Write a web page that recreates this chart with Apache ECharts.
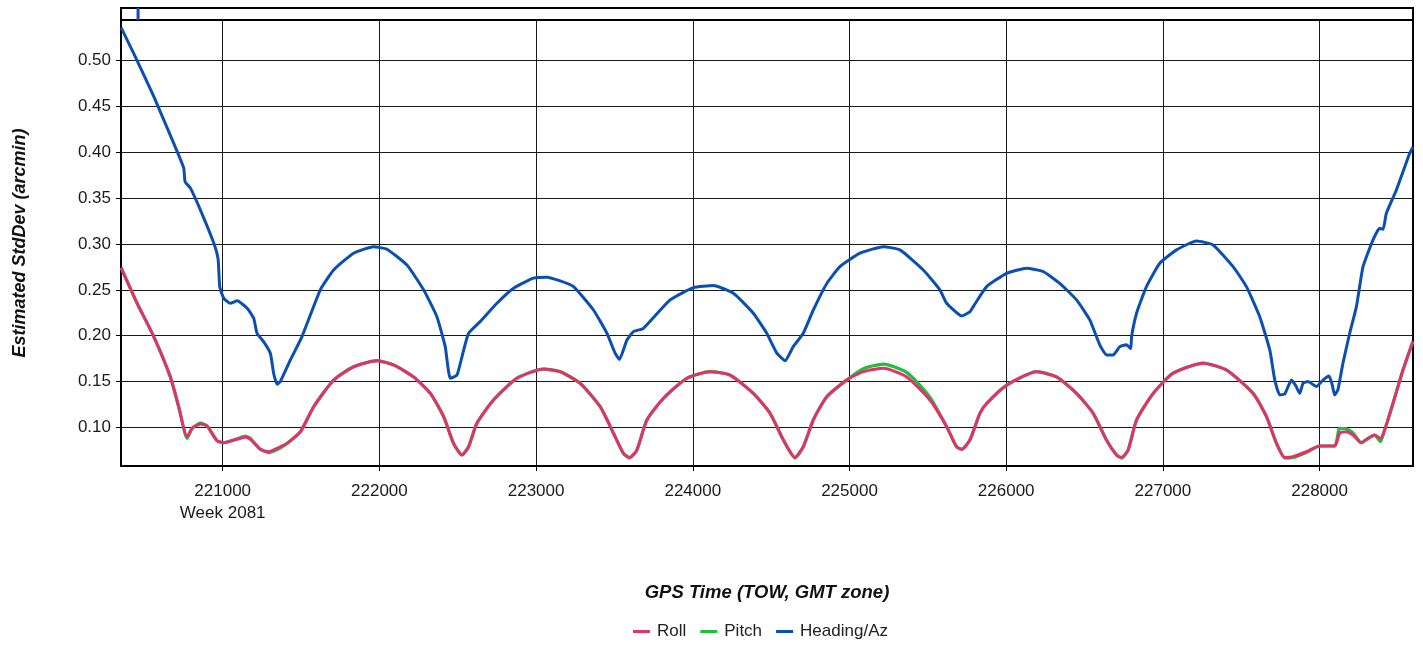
<!DOCTYPE html>
<html><head><meta charset="utf-8">
<script src="https://cdn.jsdelivr.net/npm/echarts@6/dist/echarts.min.js"></script>
<style>html,body{margin:0;padding:0;background:#fff}#c{width:1423px;height:648px}</style>
</head><body><div id="c"></div>
<script>
const rollTime = [220352,220454,220560,220666,220719,220773,220805,220858,220900,220964,221006,221092,221145,221177,221240,221293,221368,221411,221496,221581,221708,221835,221985,222091,222218,222325,222410,222473,222527,222569,222622,222728,222877,223047,223154,223281,223409,223494,223557,223596,223643,223707,223813,223962,224110,224238,224386,224493,224578,224652,224705,224769,224855,224982,225088,225216,225365,225513,225620,225683,225716,225768,225832,225875,226003,226194,226321,226449,226555,226640,226704,226736,226778,226832,226938,227065,227257,227406,227576,227661,227725,227778,227831,227916,228001,228096,228128,228170,228213,228266,228309,228351,228388,228415,228468,228532,228596];
const rollValues = [0.274,0.2353,0.199,0.155,0.1225,0.0897,0.0989,0.1036,0.1015,0.0854,0.0832,0.0869,0.0891,0.0869,0.076,0.0734,0.0788,0.0825,0.0952,0.1225,0.1516,0.166,0.1727,0.168,0.155,0.137,0.1116,0.0825,0.0698,0.0788,0.1044,0.1298,0.1535,0.1636,0.1607,0.148,0.1225,0.0935,0.0716,0.0672,0.0752,0.108,0.1317,0.1535,0.1607,0.157,0.137,0.1153,0.0861,0.0672,0.0788,0.108,0.1334,0.1516,0.1607,0.1644,0.155,0.1298,0.1007,0.0788,0.076,0.0861,0.1153,0.126,0.146,0.1607,0.155,0.137,0.1153,0.0861,0.0698,0.0672,0.0752,0.108,0.137,0.159,0.17,0.1625,0.137,0.1116,0.0825,0.0672,0.068,0.0734,0.0796,0.0796,0.0935,0.0952,0.0916,0.0832,0.0879,0.0916,0.0879,0.097,0.126,0.1625,0.194];
const pitchValues = [0.274,0.2353,0.199,0.155,0.1225,0.088,0.0989,0.1045,0.1015,0.0854,0.0832,0.0875,0.0905,0.088,0.076,0.0725,0.0775,0.0825,0.0952,0.1225,0.1516,0.166,0.1727,0.168,0.155,0.137,0.1116,0.0825,0.0698,0.0788,0.1044,0.1298,0.1535,0.1636,0.1607,0.148,0.1225,0.0935,0.0716,0.0665,0.0752,0.108,0.1317,0.1535,0.1607,0.157,0.137,0.1153,0.0861,0.0665,0.0788,0.108,0.1334,0.1516,0.164,0.169,0.16,0.133,0.1007,0.0788,0.076,0.0861,0.1153,0.126,0.146,0.1607,0.155,0.137,0.1153,0.0861,0.0698,0.0665,0.0752,0.108,0.137,0.159,0.17,0.1625,0.137,0.1116,0.0825,0.0665,0.067,0.0725,0.0796,0.0796,0.099,0.0985,0.094,0.0832,0.0879,0.0916,0.0845,0.097,0.126,0.1625,0.194];
const headingTime = [220352,220432,220560,220687,220751,220760,220794,220858,220943,220971,220981,221006,221049,221092,221156,221198,221219,221261,221304,221325,221347,221368,221432,221506,221623,221708,221835,221963,222048,222176,222282,222367,222420,222452,222495,222527,222569,222643,222750,222856,222983,223069,223154,223239,223366,223452,223504,223532,223579,223621,223685,223855,224004,224131,224259,224386,224472,224536,224589,224641,224705,224769,224855,224939,225067,225216,225322,225471,225577,225620,225716,225768,225790,225875,226003,226130,226236,226342,226449,226534,226597,226640,226682,226725,226767,226795,226800,226832,226895,226980,227087,227214,227320,227448,227533,227618,227682,227714,227746,227778,227820,227849,227873,227894,227926,227980,228022,228060,228081,228096,228117,228149,228192,228235,228277,228341,228383,228405,228426,228490,228575,228596];
const headingValues = [0.536,0.508,0.461,0.41,0.383,0.368,0.361,0.337,0.301,0.283,0.2535,0.241,0.2353,0.238,0.23,0.219,0.2026,0.1935,0.1808,0.159,0.147,0.15,0.1735,0.199,0.25,0.2717,0.29,0.297,0.2943,0.277,0.25,0.2207,0.188,0.1535,0.157,0.177,0.2026,0.2153,0.2353,0.2517,0.2627,0.2638,0.2597,0.2535,0.228,0.2026,0.181,0.174,0.195,0.2044,0.208,0.239,0.2524,0.2546,0.2463,0.2245,0.2026,0.181,0.1727,0.188,0.2026,0.228,0.257,0.2753,0.29,0.297,0.2936,0.2717,0.25,0.2353,0.2215,0.226,0.2317,0.2535,0.268,0.2736,0.27,0.257,0.239,0.217,0.19,0.179,0.179,0.188,0.19,0.186,0.199,0.2245,0.2535,0.279,0.2936,0.3034,0.299,0.2753,0.2535,0.2207,0.1844,0.1516,0.1353,0.1365,0.1516,0.145,0.137,0.148,0.15,0.1445,0.1516,0.156,0.146,0.1353,0.141,0.17,0.2026,0.2317,0.2753,0.3045,0.3172,0.316,0.3336,0.359,0.399,0.406];
const headingStripTime = [220460, 220460];
const headingStripValues = [0, 1];
const xTicks = [221000,222000,223000,224000,225000,226000,227000,228000];
const yTicks = [0.10,0.15,0.20,0.25,0.30,0.35,0.40,0.45,0.50];
const weekTick = 221000;
const weekLabel = 'Week 2081';
const xRange = [220351, 228596];
const yRange = [0.0578, 0.5444];

const FONT = "'Liberation Sans', Arial, sans-serif";
const C_ROLL = '#e0336c', C_PITCH = '#1fbf3c', C_HEAD = '#0b4fb2';
const pair = (xs, ys) => xs.map((x, i) => [x, ys[i]]);

const chart = echarts.init(document.getElementById('c'), null, {renderer: 'canvas'});
chart.setOption({
  animation: false,
  backgroundColor: '#fff',
  grid: [
    {left: 121, right: 10, top: 20, bottom: 182, show: true, borderColor: '#000', borderWidth: 2, containLabel: false},
    {left: 121, right: 10, top: 8, height: 12, show: true, borderColor: '#000', borderWidth: 2, containLabel: false}
  ],
  legend: {
    data: ['Roll', 'Pitch', 'Heading/Az'],
    bottom: 3, left: 628,
    icon: 'rect', itemWidth: 17, itemHeight: 3, itemGap: 14,
    textStyle: {fontFamily: FONT, fontSize: 17, color: '#222', padding: [0, 0, 0, 2]}
  },
  xAxis: [{
    type: 'value', gridIndex: 0, min: xRange[0], max: xRange[1],
    name: 'GPS Time (TOW, GMT zone)', nameLocation: 'middle', nameGap: 117,
    nameTextStyle: {fontFamily: FONT, fontSize: 18.5, fontWeight: 'bold', fontStyle: 'italic', color: '#111'},
    axisLine: {show: true, lineStyle: {color: '#000', width: 2}},
    axisTick: {show: true, length: 5, lineStyle: {color: '#000', width: 1}, customValues: xTicks},
    axisLabel: {customValues: xTicks, fontFamily: FONT, fontSize: 17, color: '#1a1a1a', margin: 14, lineHeight: 22,
      formatter: v => v === weekTick ? String(v) + '\n' + weekLabel : String(v)},
    splitLine: {show: true, lineStyle: {color: '#1a1a1a', width: 1}}
  }, {
    type: 'value', gridIndex: 1, min: xRange[0], max: xRange[1], show: false
  }],
  yAxis: [{
    type: 'value', gridIndex: 0, min: yRange[0], max: yRange[1],
    name: 'Estimated StdDev (arcmin)', nameLocation: 'middle', nameGap: 92,
    nameTextStyle: {fontFamily: FONT, fontSize: 18, fontWeight: 'bold', fontStyle: 'italic', color: '#111'},
    axisLine: {show: true, lineStyle: {color: '#000', width: 2}},
    axisTick: {show: true, length: 5, lineStyle: {color: '#000', width: 1}, customValues: yTicks},
    axisLabel: {customValues: yTicks, fontFamily: FONT, fontSize: 17, color: '#1a1a1a', margin: 10,
      formatter: v => v.toFixed(2)},
    splitLine: {show: true, lineStyle: {color: '#1a1a1a', width: 1}}
  }, {
    type: 'value', gridIndex: 1, min: 0, max: 1, show: false
  }],
  series: [
    {name: 'Roll', type: 'line', xAxisIndex: 0, yAxisIndex: 0, data: pair(rollTime, rollValues),
      showSymbol: false, smooth: 0.2, z: 4, lineStyle: {color: C_ROLL, width: 3}, itemStyle: {color: C_ROLL}},
    {name: 'Pitch', type: 'line', xAxisIndex: 0, yAxisIndex: 0, data: pair(rollTime, pitchValues),
      showSymbol: false, smooth: 0.2, z: 3, lineStyle: {color: C_PITCH, width: 3.2}, itemStyle: {color: C_PITCH}},
    {name: 'Heading/Az', type: 'line', xAxisIndex: 0, yAxisIndex: 0, data: pair(headingTime, headingValues),
      showSymbol: false, smooth: 0.15, z: 5, lineStyle: {color: C_HEAD, width: 3}, itemStyle: {color: C_HEAD}},
    {name: 'Heading/Az', type: 'line', xAxisIndex: 1, yAxisIndex: 1, data: pair(headingStripTime, headingStripValues),
      showSymbol: false, z: 5, lineStyle: {color: C_HEAD, width: 3}, itemStyle: {color: C_HEAD}}
  ]
});
</script></body></html>
